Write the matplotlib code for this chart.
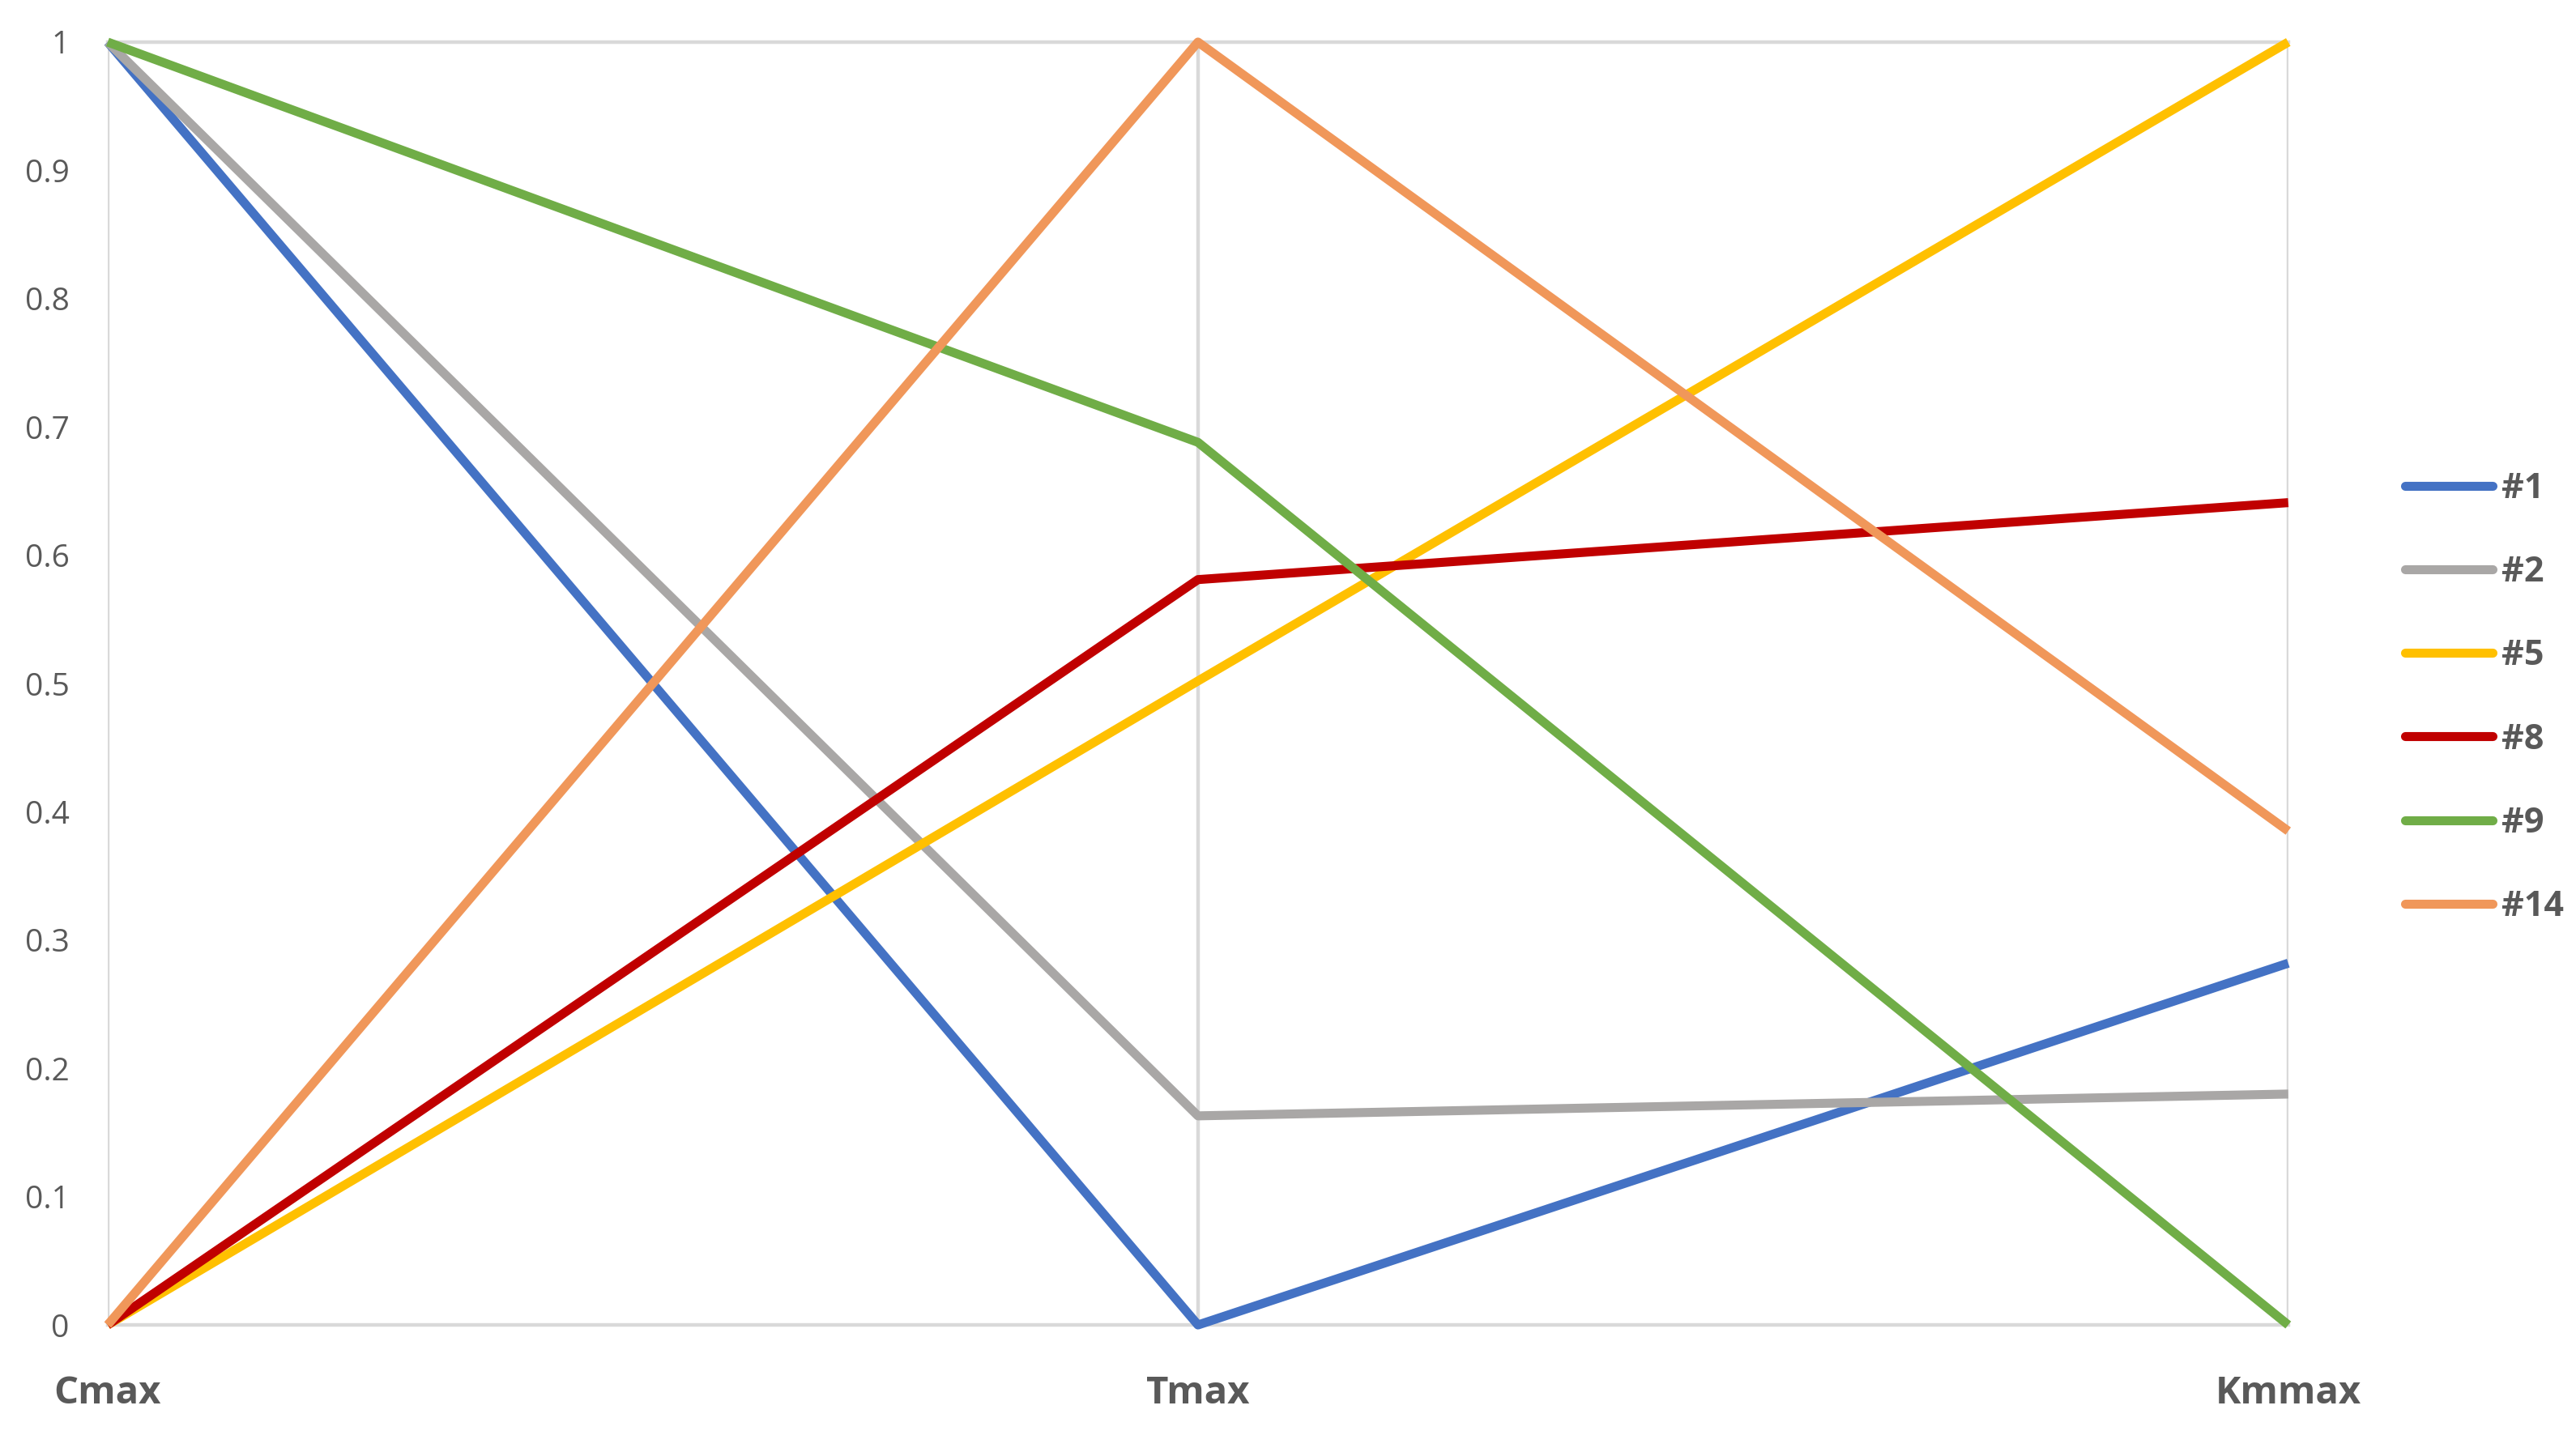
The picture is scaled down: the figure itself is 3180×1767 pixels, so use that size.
import matplotlib.pyplot as plt
from matplotlib.ticker import FuncFormatter

categories = ["Cmax", "Tmax", "Kmmax"]
series_names = ["#1", "#2", "#5", "#8", "#9", "#14"]
s1 = [1.0, 0.0, 0.282]
s2 = [1.0, 0.163, 0.180]
s5 = [0.0, 0.502, 1.0]
s8 = [0.0, 0.581, 0.641]
s9 = [1.0, 0.688, 0.0]
s14 = [0.0, 1.0, 0.385]
colors = ["#4472C4", "#A9A7A6", "#FFC000", "#C00000", "#70AD47", "#F0975A"]

plt.rcParams["font.family"] = ["Open Sans", "DejaVu Sans"]
text_color = "#595959"
grid_color = "#D9D9D9"

fig = plt.figure(figsize=(15.9, 8.835), dpi=200)
ax = fig.add_axes([0.0418, 0.0741, 0.8465, 0.8965])

x = range(len(categories))
for name, vals, col in zip(series_names, [s1, s2, s5, s8, s9, s14], colors):
    ax.plot(x, vals, color=col, lw=4.0, label=name,
            solid_capstyle="butt", solid_joinstyle="round", clip_on=False, zorder=3)

ax.set_xlim(0, len(categories) - 1)
ax.set_ylim(0, 1)
ax.set_xticks(list(x))
ax.set_xticklabels(categories, fontsize=17, fontweight="bold", color=text_color)
ax.set_yticks([i / 10 for i in range(11)])
ax.yaxis.set_major_formatter(FuncFormatter(lambda v, p: "%g" % round(v, 1)))
ax.tick_params(axis="y", length=0, pad=17, labelsize=14, labelcolor=text_color)
ax.tick_params(axis="x", length=0, pad=22)

for s in ["left", "right"]:
    ax.spines[s].set_visible(False)
for s in ["top", "bottom"]:
    ax.spines[s].set_color(grid_color)
    ax.spines[s].set_linewidth(1.6)
ax.grid(axis="x", color=grid_color, lw=1.6, zorder=0)
ax.set_axisbelow(True)

leg = fig.legend(loc="center left", bbox_to_anchor=(0.9215, 0.5125), frameon=False,
                 fontsize=15.5, handlelength=2.5, handletextpad=0.25, labelspacing=1.4)
for t in leg.get_texts():
    t.set_color(text_color)
    t.set_fontweight("bold")
for h in leg.get_lines():
    h.set_solid_capstyle("round")

fig.savefig("out.png", dpi=200, facecolor="white")
